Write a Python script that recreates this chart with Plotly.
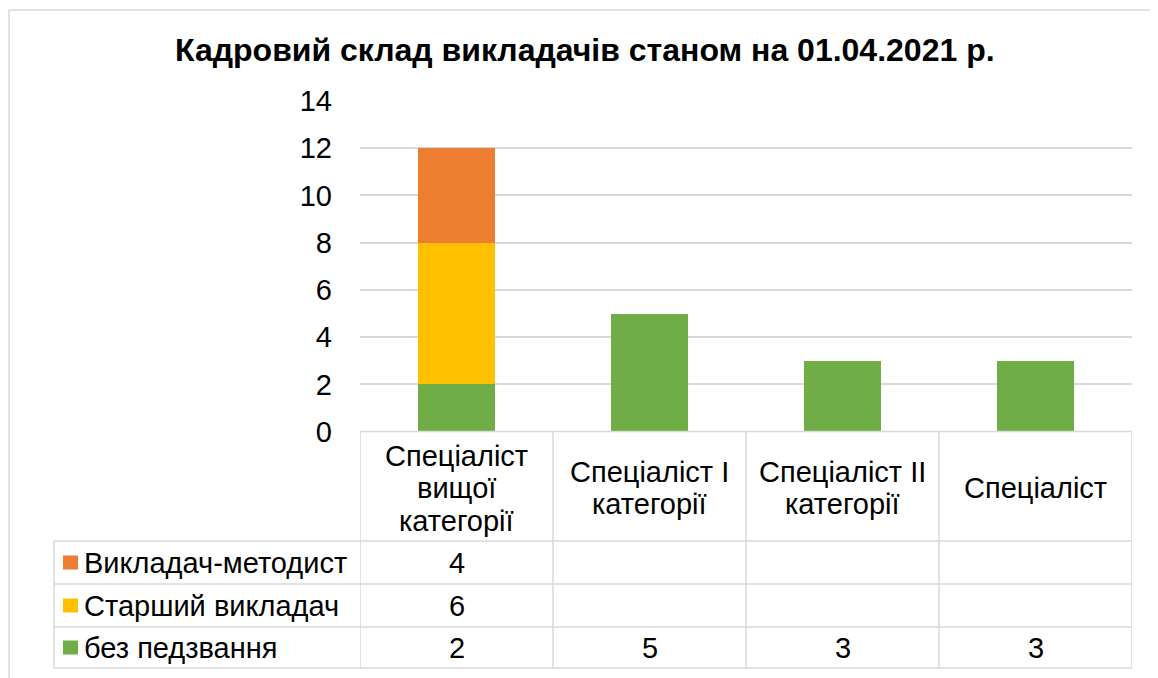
import plotly.graph_objects as go

# ---- data ----
categories = ["Спеціаліст вищої категорії", "Спеціаліст I категорії",
              "Спеціаліст II категорії", "Спеціаліст"]
category_labels = ["Спеціаліст\nвищої\nкатегорії", "Спеціаліст I\nкатегорії",
                   "Спеціаліст II\nкатегорії", "Спеціаліст"]
series_names = ["без педзвання", "Старший викладач", "Викладач-методист"]
bez_pedzvannia = [2, 5, 3, 3]
starshyi_vykladach = [6, None, None, None]
vykladach_metodyst = [4, None, None, None]
series_values = [bez_pedzvannia, starshyi_vykladach, vykladach_metodyst]
series_colors = ["#70AD47", "#FFC000", "#ED7D31"]
y_ticks = [0, 2, 4, 6, 8, 10, 12, 14]
title_text = "Кадровий склад викладачів станом на 01.04.2021 р."

# ---- geometry (screen pixels; page body has an 8px margin) ----
W, H = 1158, 678
OFF = 8
PX_L, PX_R, PX_T, PX_B = 360, 1132, 101, 431.6
FONT = "Liberation Sans, Arial, sans-serif"
FS = 29
GRID = "#D9D9D9"


def fx(x):
    return (x - OFF) / W


def fy(y):
    return 1 - (y - OFF) / H


fig = go.Figure()
for name, vals, col in zip(series_names, series_values, series_colors):
    fig.add_trace(go.Bar(x=list(range(len(categories))), y=vals, name=name,
                         marker=dict(color=col, line=dict(width=0)), width=0.4))

shapes = []
annotations = []

# outer chart border (left and top)
shapes.append(dict(type="line", xref="paper", yref="paper", x0=fx(9), x1=1,
                   y0=fy(10), y1=fy(10), line=dict(color=GRID, width=1.5)))
shapes.append(dict(type="line", xref="paper", yref="paper", x0=fx(9), x1=fx(9),
                   y0=fy(10), y1=0, line=dict(color=GRID, width=1.5)))

# data table
row_lines = [541, 584, 627, 668]
header_bottom = row_lines[0]
table_left = 54
n = len(categories)
shapes.append(dict(type="line", xref="x", yref="paper", x0=-0.5, x1=n - 0.5,
                   y0=fy(PX_B), y1=fy(PX_B), line=dict(color=GRID, width=1.5)))
for yl in row_lines:
    shapes.append(dict(type="line", xref="paper", yref="paper", x0=fx(table_left), x1=fx(PX_R),
                       y0=fy(yl), y1=fy(yl), line=dict(color=GRID, width=1.5)))
shapes.append(dict(type="line", xref="paper", yref="paper", x0=fx(table_left), x1=fx(table_left),
                   y0=fy(header_bottom), y1=fy(row_lines[-1]), line=dict(color=GRID, width=1.5)))
for i in range(n + 1):
    shapes.append(dict(type="line", xref="x", yref="paper", x0=i - 0.5, x1=i - 0.5,
                       y0=fy(PX_B), y1=fy(row_lines[-1]), line=dict(color=GRID, width=1.5)))

# category labels (header row), line by line
line_h = 32.5
header_mid = 488
for i, lab in enumerate(category_labels):
    lines = lab.split("\n")
    start = header_mid - (len(lines) - 1) * line_h / 2
    for k, ln in enumerate(lines):
        annotations.append(dict(x=i, y=fy(start + k * line_h), xref="x", yref="paper",
                                text=ln, showarrow=False, xanchor="center", yanchor="middle",
                                font=dict(family=FONT, size=FS, color="black")))

# table rows: top to bottom is reverse of series order
for r, s in enumerate(reversed(range(len(series_names)))):
    y_top, y_bot = row_lines[r], row_lines[r + 1]
    ym = (y_top + y_bot) / 2
    shapes.append(dict(type="rect", xref="paper", yref="paper", x0=fx(63), x1=fx(78),
                       y0=fy(ym - 7), y1=fy(ym + 7), fillcolor=series_colors[s],
                       line=dict(width=0)))
    annotations.append(dict(x=fx(82), y=fy(ym), xref="paper", yref="paper",
                            text=series_names[s], showarrow=False, xanchor="left", yanchor="middle",
                            font=dict(family=FONT, size=FS, color="black")))
    for i, v in enumerate(series_values[s]):
        if v is None:
            continue
        annotations.append(dict(x=i, y=fy(ym), xref="x", yref="paper", text=str(v),
                                showarrow=False, xanchor="center", yanchor="middle",
                                font=dict(family=FONT, size=FS, color="black")))

# title
annotations.append(dict(x=fx(585), y=fy(50), xref="paper", yref="paper",
                        text="<b>" + title_text + "</b>", showarrow=False,
                        xanchor="center", yanchor="middle",
                        font=dict(family=FONT, size=32, color="black")))

fig.update_layout(
    width=W, height=H, autosize=False,
    margin=dict(l=0, r=0, t=0, b=0, autoexpand=False),
    paper_bgcolor="white", plot_bgcolor="white",
    barmode="stack", showlegend=False,
    xaxis=dict(domain=[fx(PX_L), fx(PX_R)], range=[-0.5, n - 0.5], showticklabels=False,
               showgrid=False, zeroline=False, showline=False, ticks="", fixedrange=True,
               automargin=False),
    yaxis=dict(domain=[fy(PX_B), fy(PX_T)], range=[0, 14], tickvals=y_ticks,
               showgrid=True, gridcolor=GRID, gridwidth=1.5, zeroline=False, showline=False,
               ticks="", ticklabelstandoff=27, automargin=False,
               tickfont=dict(family=FONT, size=FS, color="black"), fixedrange=True),
    shapes=shapes, annotations=annotations,
)

fig.write_html("out.html")
